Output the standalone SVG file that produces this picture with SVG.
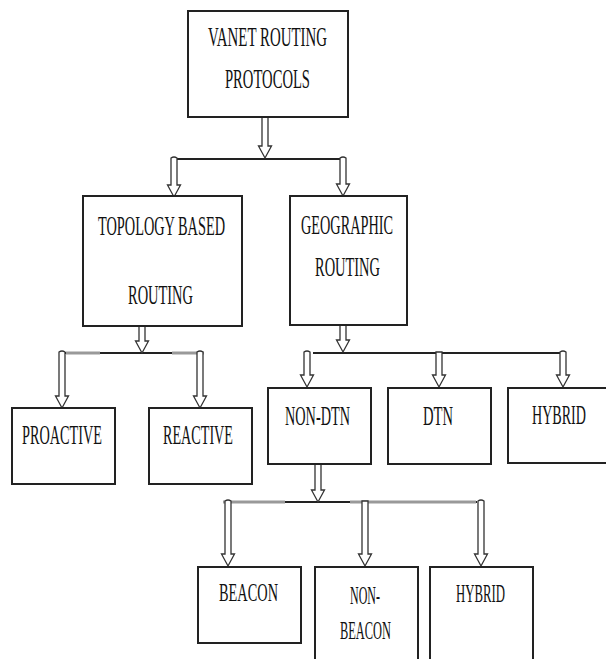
<svg xmlns="http://www.w3.org/2000/svg" width="606" height="659" viewBox="0 0 606 659">
<style>
.box{fill:#fff;stroke:#222;stroke-width:2}
.t{font-family:"Liberation Serif","Times New Roman",serif;font-size:28px;fill:#111}
.s{font-size:26px}
.ln{stroke:#222;stroke-width:2;fill:none}
.gr{stroke:#999;stroke-width:3;fill:none}
.ar{fill:#fff;stroke:#333;stroke-width:1.3;stroke-linejoin:miter}
</style>
<rect width="606" height="659" fill="#fff"/>
<g id="connectors">
<line class="ln" x1="172" y1="159" x2="345" y2="159"/>
<line class="ln" x1="62" y1="353" x2="203" y2="353"/>
<line class="gr" x1="66" y1="353" x2="100" y2="353"/>
<line class="gr" x1="172" y1="353" x2="204" y2="353"/>
<line class="ln" x1="313" y1="353" x2="562" y2="353"/>
<line class="ln" x1="223" y1="502" x2="477" y2="502"/>
<line class="gr" x1="223" y1="502" x2="285" y2="502"/>
<line class="gr" x1="350" y1="502" x2="476" y2="502"/>
<path class="ar" d="M262,117 L268,117 L268,146 L271.5,146 L265,158 L258.5,146 L262,146 Z"/>
<path class="ar" d="M171,158 Q174,156 177,158 L177,185 L180.5,185 L174,197 L167.5,185 L171,185 Z"/>
<path class="ar" d="M340,158 Q343,156 346,158 L346,184 L349.5,184 L343,196 L336.5,184 L340,184 Z"/>
<path class="ar" d="M139,326 L145,326 L145,341 L148.5,341 L142,353 L135.5,341 L139,341 Z"/>
<path class="ar" d="M59,352 Q62,350 65,352 L65,396 L68.5,396 L62,408 L55.5,396 L59,396 Z"/>
<path class="ar" d="M197,352 Q200,350 203,352 L203,396 L206.5,396 L200,408 L193.5,396 L197,396 Z"/>
<path class="ar" d="M340,325 L346,325 L346,340 L349.5,340 L343,352 L336.5,340 L340,340 Z"/>
<path class="ar" d="M304,352 Q307,350 310,352 L310,375 L313.5,375 L307,387 L300.5,375 L304,375 Z"/>
<path class="ar" d="M436,352 L442,352 L442,375 L445.5,375 L439,387 L432.5,375 L436,375 Z"/>
<path class="ar" d="M560,352 Q563,350 566,352 L566,375 L569.5,375 L563,387 L556.5,375 L560,375 Z"/>
<path class="ar" d="M315,464 L321,464 L321,490 L324.5,490 L318,502 L311.5,490 L315,490 Z"/>
<path class="ar" d="M225,501 Q228,499 231,501 L231,554 L234.5,554 L228,566 L221.5,554 L225,554 Z"/>
<path class="ar" d="M362,501 L368,501 L368,554 L371.5,554 L365,566 L358.5,554 L362,554 Z"/>
<path class="ar" d="M478,501 Q481,499 484,501 L484,554 L487.5,554 L481,566 L474.5,554 L478,554 Z"/>
</g>
<g id="vanet">
<rect class="box" x="188" y="11" width="160" height="106"/>
<text class="t" transform="scale(0.5,1)" x="416" y="46" textLength="238" lengthAdjust="spacingAndGlyphs">VANET ROUTING</text>
<text class="t" transform="scale(0.5,1)" x="450" y="88" textLength="170" lengthAdjust="spacingAndGlyphs">PROTOCOLS</text>
</g>
<g id="topology">
<rect class="box" x="83" y="196" width="159" height="130"/>
<text class="t" transform="scale(0.5,1)" x="196" y="235" textLength="254" lengthAdjust="spacingAndGlyphs">TOPOLOGY BASED</text>
<text class="t" transform="scale(0.5,1)" x="256" y="304" textLength="130" lengthAdjust="spacingAndGlyphs">ROUTING</text>
</g>
<g id="geographic">
<rect class="box" x="290" y="196" width="117" height="129"/>
<text class="t" transform="scale(0.5,1)" x="602" y="234" textLength="184" lengthAdjust="spacingAndGlyphs">GEOGRAPHIC</text>
<text class="t" transform="scale(0.5,1)" x="630" y="276" textLength="130" lengthAdjust="spacingAndGlyphs">ROUTING</text>
</g>
<g id="proactive">
<rect class="box" x="12" y="408" width="103" height="76"/>
<text class="t" transform="scale(0.5,1)" x="44" y="444" textLength="160" lengthAdjust="spacingAndGlyphs">PROACTIVE</text>
</g>
<g id="reactive">
<rect class="box" x="149" y="408" width="103" height="76"/>
<text class="t" transform="scale(0.5,1)" x="326" y="444" textLength="140" lengthAdjust="spacingAndGlyphs">REACTIVE</text>
</g>
<g id="nondtn">
<rect class="box" x="268" y="388" width="103" height="76"/>
<text class="t" transform="scale(0.5,1)" x="570" y="425" textLength="130" lengthAdjust="spacingAndGlyphs">NON-DTN</text>
</g>
<g id="dtn">
<rect class="box" x="388" y="388" width="103" height="76"/>
<text class="t" transform="scale(0.5,1)" x="846" y="425" textLength="60" lengthAdjust="spacingAndGlyphs">DTN</text>
</g>
<g id="hybrid1">
<rect class="box" x="508" y="388" width="104" height="75"/>
<text class="t" transform="scale(0.5,1)" x="1064" y="424" textLength="108" lengthAdjust="spacingAndGlyphs">HYBRID</text>
</g>
<g id="beacon">
<rect class="box" x="198" y="567" width="103" height="76"/>
<text class="t s" transform="scale(0.5,1)" x="438" y="601" textLength="118" lengthAdjust="spacingAndGlyphs">BEACON</text>
</g>
<g id="nonbeacon">
<rect class="box" x="315" y="567" width="103" height="100"/>
<text class="t s" transform="scale(0.5,1)" x="700" y="604" textLength="60" lengthAdjust="spacingAndGlyphs">NON-</text>
<text class="t s" transform="scale(0.5,1)" x="680" y="639" textLength="102" lengthAdjust="spacingAndGlyphs">BEACON</text>
</g>
<g id="hybrid2">
<rect class="box" x="430" y="567" width="103" height="100"/>
<text class="t s" transform="scale(0.5,1)" x="912" y="602" textLength="98" lengthAdjust="spacingAndGlyphs">HYBRID</text>
</g>
</svg>
